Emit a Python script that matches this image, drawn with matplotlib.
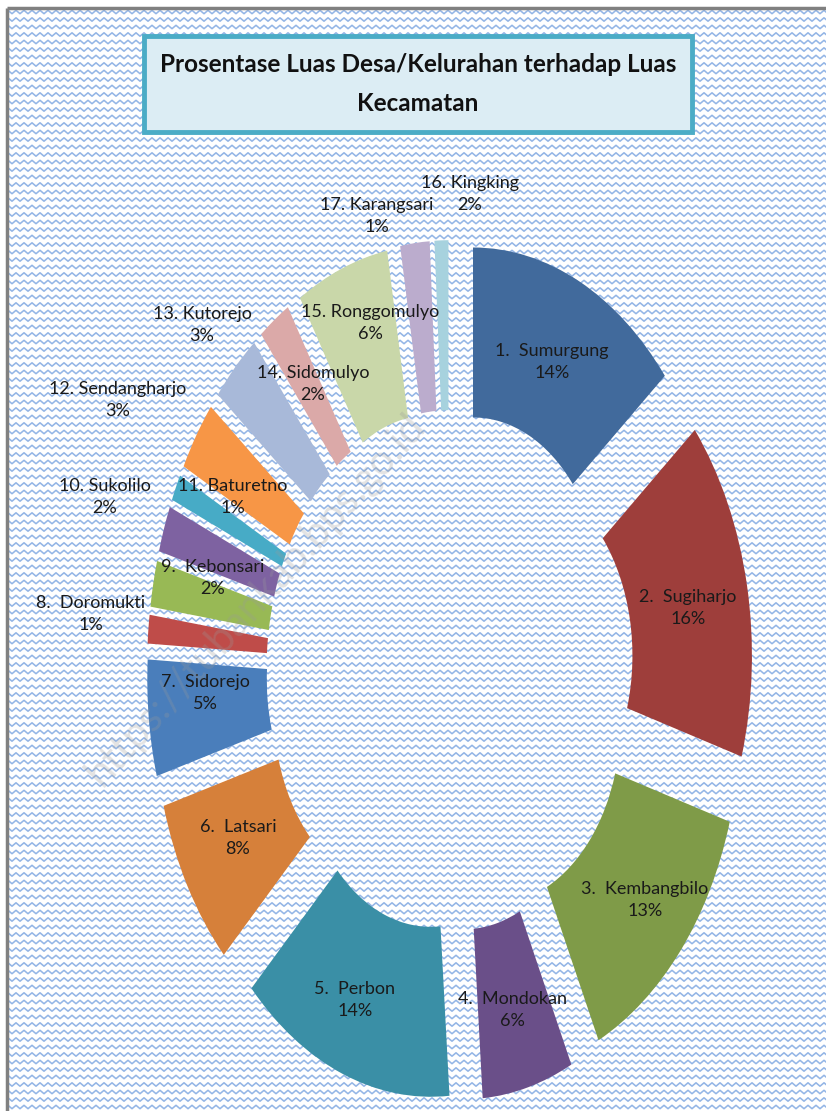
import numpy as np
import matplotlib
matplotlib.use("Agg")
import matplotlib.pyplot as plt
from matplotlib.patches import Rectangle
from matplotlib.collections import LineCollection

# ---------------- data ----------------
categories = ["1.  Sumurgung", "2.  Sugiharjo", "3.  Kembangbilo", "4.  Mondokan",
              "5.  Perbon", "6.  Latsari", "7.  Sidorejo", "8.  Doromukti",
              "9.  Kebonsari", "10. Sukolilo", "11. Baturetno", "12. Sendangharjo",
              "13. Kutorejo", "14. Sidomulyo", "15. Ronggomulyo", "16. Kingking",
              "17. Karangsari"]
# estimated shares (%), labelled as rounded whole percents in the chart
share = [14.0, 15.6, 13.3, 5.9, 14.0, 7.8, 5.3, 1.3, 2.1, 2.1, 1.2, 3.2, 3.3, 2.1,
         6.0, 1.9, 0.9]
title = "Prosentase Luas Desa/Kelurahan terhadap Luas\nKecamatan"

colors = ["#416a9c", "#9e3e3b", "#7f9b48", "#6a4f89", "#3a8fa6", "#d6803a",
          "#4a7ebb", "#bf4c49", "#98b955", "#7e62a1", "#47abc6", "#f79646",
          "#a8b9d9", "#dba9a8", "#c9d7a9", "#bbaccd", "#a7d2de"]

# label centres (pixel layout of the reference)
label_pos = [(552, 362), (688, 608), (645, 900), (512, 1010), (355, 1000),
             (238, 838), (205, 693), (91, 614), (213, 578), (105, 497),
             (233, 497), (118, 400), (202, 325), (313, 384), (370, 323),
             (470, 194), (377, 216)]

W, H = 826, 1111
CX, CY = 450, 671          # donut centre in pixels
RX, RY = 249, 354          # outer radius in pixels (x, y)

fig = plt.figure(figsize=(W / 100, H / 100), dpi=100)
fig.patch.set_facecolor("white")

# ---------------- background ----------------
bg = fig.add_axes([0, 0, 1, 1])
bg.set_xlim(0, W)
bg.set_ylim(H, 0)
bg.axis("off")
bg.add_patch(Rectangle((7, 8), W, H, facecolor="white", edgecolor="none", zorder=0))
segs = []
xs = np.arange(8, W + 8, 4.0)
for y0 in np.arange(12, H + 8, 7.5):
    ys = y0 + np.where((np.arange(len(xs)) % 2) == 0, -1.7, 1.7)
    segs.append(np.column_stack([xs, ys]))
bg.add_collection(LineCollection(segs, colors="#94b6e6", linewidths=1.15, zorder=1))
bg.plot([7, W], [8, 8], color="#808080", lw=2.5, zorder=2, solid_capstyle="butt")
bg.plot([7, 7], [8, H], color="#808080", lw=2.5, zorder=2, solid_capstyle="butt")

# ---------------- donut ----------------
ax = fig.add_axes([0, 0, 1, 1], zorder=2)
ax.patch.set_alpha(0)
ax.pie(share, colors=colors, startangle=90, counterclock=False,
       explode=[0.217] * len(share), radius=1.0,
       wedgeprops=dict(width=0.48, edgecolor="none"))
ax.set_aspect("auto")
ax.set_xlim(-CX / RX, (W - CX) / RX)
ax.set_ylim(-(H - CY) / RY, CY / RY)
ax.axis("off")

# ---------------- text layer ----------------
tx = fig.add_axes([0, 0, 1, 1], zorder=3)
tx.set_xlim(0, W)
tx.set_ylim(H, 0)
tx.axis("off")
tx.patch.set_alpha(0)

for name, s, (lx, ly) in zip(categories, share, label_pos):
    tx.text(lx, ly, f"{name}\n{int(round(s))}%", ha="center", va="center",
            fontsize=13, family="Lato", color="#1a1a1a", linespacing=1.5)

# watermark
tx.text(255, 600, "https://tubankab.bps.go.id", rotation=48, ha="center", va="center",
        fontsize=30, family="Lato", color="#9a9a9a", alpha=0.28)

# title box
tx.add_patch(Rectangle((144, 36), 548, 96, facecolor="#dcedf4", edgecolor="#4bacc6",
                       linewidth=3.5))
tx.text(418, 84, title, ha="center", va="center", fontsize=17.5, family="Lato",
        fontweight="bold", color="#111111", linespacing=1.8)

fig.savefig("out.png", dpi=100)
